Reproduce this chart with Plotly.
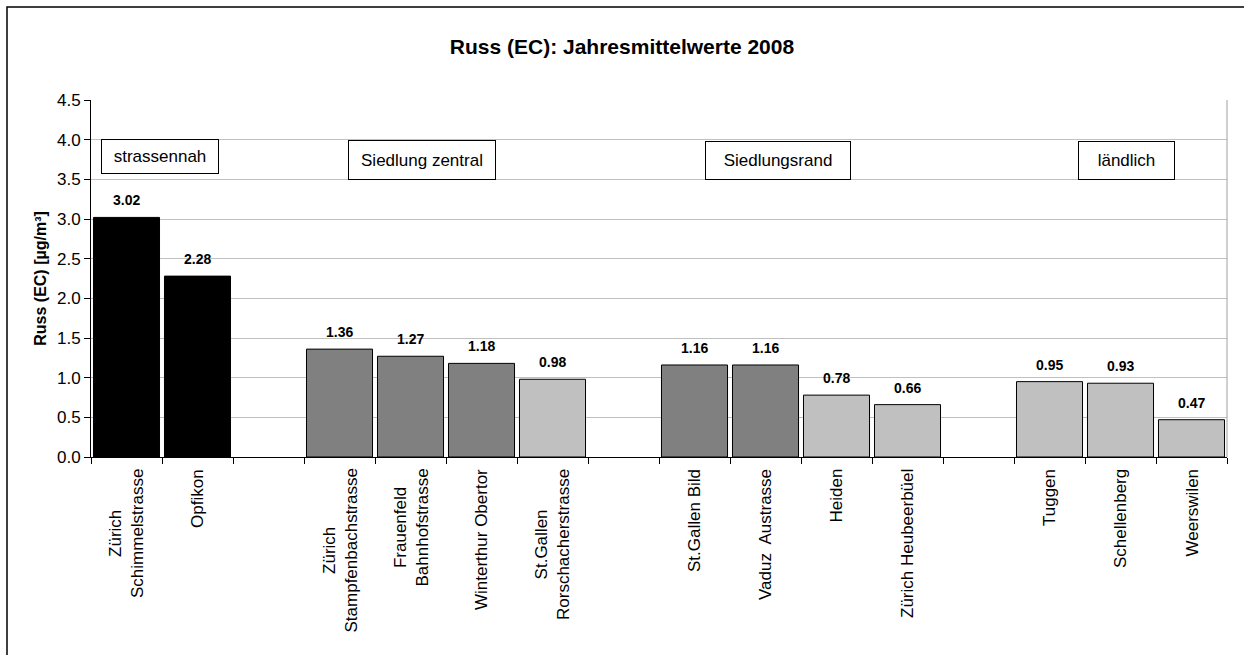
import plotly.graph_objects as go

# Stations (blank entries separate the site groups)
stations = [
    "Zürich<br>Schimmelstrasse", "Opfikon", " ",
    "Zürich<br>Stampfenbachstrasse", "Frauenfeld<br>Bahnhofstrasse",
    "Winterthur Obertor", "St.Gallen<br>Rorschacherstrasse", "  ",
    "St.Gallen Bild", "Vaduz  Austrasse", "Heiden", "Zürich Heubeerbüel", "   ",
    "Tuggen", "Schellenberg", "Weerswilen",
]
ec_values = [3.02, 2.28, None, 1.36, 1.27, 1.18, 0.98, None,
             1.16, 1.16, 0.78, 0.66, None, 0.95, 0.93, 0.47]
shade_key = ["k", "k", "l", "d", "d", "d", "l", "l",
             "d", "d", "l", "l", "l", "l", "l", "l"]
group_names = ["strassennah", "Siedlung zentral", "Siedlungsrand", "ländlich"]
y_ticks = [0.0, 0.5, 1.0, 1.5, 2.0, 2.5, 3.0, 3.5, 4.0, 4.5]

FONT = "Liberation Sans, Arial, sans-serif"
shade_color = {"k": "#000000", "d": "#808080", "l": "#C0C0C0"}

W, H = 1244, 655
L, R, T, B = 91, 17, 100, 198
pw, ph = W - L - R, H - T - B


def px_x(x):
    return (x - L) / pw


def px_y(y):
    return (H - B - y) / ph


fig = go.Figure()
fig.add_trace(go.Bar(
    x=stations,
    y=ec_values,
    marker=dict(color=[shade_color[k] for k in shade_key],
                line=dict(color="#000000", width=1)),
    width=0.93,
    hoverinfo="x+y",
))

annotations = []
# value labels above the bars
for st, v in zip(stations, ec_values):
    if v is None:
        continue
    annotations.append(dict(
        x=st, y=v, xref="x", yref="y", text=f"<b>{v:.2f}</b>",
        showarrow=False, yanchor="bottom", yshift=7,
        font=dict(family=FONT, size=14, color="#000000"),
    ))
# rotated station names below the axis
for st in stations:
    if not st.strip():
        continue
    annotations.append(dict(
        x=st, y=px_y(467), xref="x", yref="paper", text=st,
        textangle=-90, showarrow=False, xanchor="center", yanchor="top",
        align="center", font=dict(family=FONT, size=17, color="#000000"),
    ))
# framed group labels
group_boxes = [(160, 156, 118, 35), (422, 160, 148, 40),
               (778, 161, 146, 39), (1126, 161, 97, 39)]
for name, (cx, cy, bw, bh) in zip(group_names, group_boxes):
    annotations.append(dict(
        x=px_x(cx), y=px_y(cy), xref="paper", yref="paper", text=name,
        showarrow=False, xanchor="center", yanchor="middle",
        width=bw - 2, height=bh - 2, borderpad=0,
        bordercolor="#000000", borderwidth=1, bgcolor="#FFFFFF",
        font=dict(family=FONT, size=17, color="#000000"),
    ))

fig.update_layout(
    width=W, height=H,
    margin=dict(l=L, r=R, t=T, b=B),
    paper_bgcolor="#FFFFFF", plot_bgcolor="#FFFFFF",
    showlegend=False,
    title=dict(text="<b>Russ (EC): Jahresmittelwerte 2008</b>",
               x=0.5, xref="container", xanchor="center",
               y=1 - 47 / H, yanchor="middle",
               font=dict(family=FONT, size=21, color="#000000")),
    annotations=annotations,
    shapes=[
        # outer frame
        dict(type="rect", xref="paper", yref="paper",
             x0=px_x(7), x1=px_x(1260), y0=px_y(670), y1=px_y(7),
             line=dict(color="#000000", width=1.5), layer="below"),
        # right edge of plot area
        dict(type="line", xref="paper", yref="paper",
             x0=1, x1=1, y0=0, y1=1,
             line=dict(color="#A0A0A0", width=1)),
    ],
    xaxis=dict(
        type="category", categoryorder="array", categoryarray=stations,
        tickson="boundaries", ticks="outside", ticklen=6,
        tickcolor="#000000", showticklabels=False,
        showline=True, linecolor="#000000", linewidth=1,
        showgrid=False, zeroline=False,
    ),
    yaxis=dict(
        range=[0, 4.5], tickvals=y_ticks,
        ticktext=[f"{t:.1f}" for t in y_ticks],
        ticks="outside", ticklen=6, tickcolor="#000000",
        showline=True, linecolor="#000000", linewidth=1,
        showgrid=True, gridcolor="#C0C0C0", gridwidth=1,
        zeroline=False,
        tickfont=dict(family=FONT, size=17, color="#000000"),
        title=dict(text="<b>Russ (EC) [µg/m³]</b>", standoff=6,
                   font=dict(family=FONT, size=16, color="#000000")),
    ),
    bargap=0.07,
)

fig.write_html("out.html")
